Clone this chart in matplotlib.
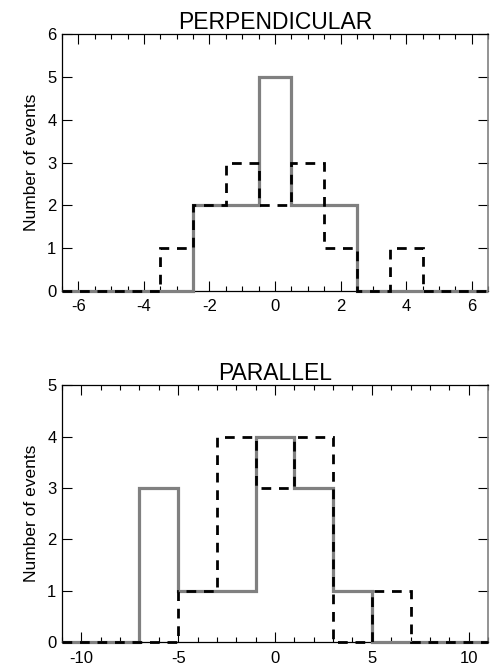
import numpy as np
import matplotlib
matplotlib.use('Agg')
import matplotlib.pyplot as plt
from matplotlib.ticker import MultipleLocator

plt.rcParams['font.family'] = ['Liberation Sans', 'DejaVu Sans']
plt.rcParams['axes.unicode_minus'] = False

# Perpendicular: bin centers (width 1) and counts
perp_centers = [-6, -5, -4, -3, -2, -1, 0, 1, 2, 3, 4, 5, 6]
perp_solid = [0, 0, 0, 0, 2, 2, 5, 2, 2, 0, 0, 0, 0]
perp_dashed = [0, 0, 0, 1, 2, 3, 2, 3, 1, 0, 1, 0, 0]
perp_width = 1

# Parallel: bin centers (width 2) and counts
par_centers = [-10, -8, -6, -4, -2, 0, 2, 4, 6, 8, 10]
par_solid = [0, 0, 3, 1, 1, 4, 3, 1, 0, 0, 0]
par_dashed = [0, 0, 0, 1, 4, 3, 4, 0, 1, 0, 0]
par_width = 2

GRAY = '#808080'


def edges_from(centers, width):
    c = np.asarray(centers, dtype=float)
    return np.append(c - width / 2, c[-1] + width / 2)


def panel(ax, centers, width, solid, dashed, title, ymax, xmaj, xmin, xticks):
    edges = edges_from(centers, width)
    ax.stairs(solid, edges, baseline=0, color=GRAY, lw=2.3, clip_on=False, zorder=3)
    ax.stairs(dashed, edges, baseline=0, color='black', lw=2.0,
              linestyle=(0, (3.5, 2.8)), clip_on=False, zorder=4)
    ax.set_xlim(edges[0], edges[-1])
    ax.set_ylim(0, ymax)
    ax.set_xticks(xticks)
    ax.xaxis.set_minor_locator(MultipleLocator(xmin))
    ax.set_yticks(range(0, ymax + 1))
    ax.tick_params(which='both', direction='in', top=True, right=True,
                   labelsize=12, width=0.8)
    ax.tick_params(which='major', length=7, pad=6)
    ax.tick_params(which='minor', length=3.5)
    ax.tick_params(axis='y', which='major', pad=4)
    ax.set_ylabel('Number of events', fontsize=12.5, labelpad=6)
    ax.set_title(title, fontsize=16.5, pad=4)
    for s in ['left', 'top', 'bottom']:
        ax.spines[s].set_linewidth(0.9)
        ax.spines[s].set_color('black')
    ax.spines['right'].set_color(GRAY)
    ax.spines['right'].set_linewidth(1.2)


fig = plt.figure(figsize=(4.96, 6.69), dpi=100)
ax1 = fig.add_axes([0.125, 0.565, 0.859, 0.384])
ax2 = fig.add_axes([0.125, 0.040, 0.859, 0.384])

panel(ax1, perp_centers, perp_width, perp_solid, perp_dashed, 'PERPENDICULAR',
      6, 2, 0.5, [-6, -4, -2, 0, 2, 4, 6])
panel(ax2, par_centers, par_width, par_solid, par_dashed, 'PARALLEL',
      5, 5, 1, [-10, -5, 0, 5, 10])

fig.savefig('out.png', dpi=100)
